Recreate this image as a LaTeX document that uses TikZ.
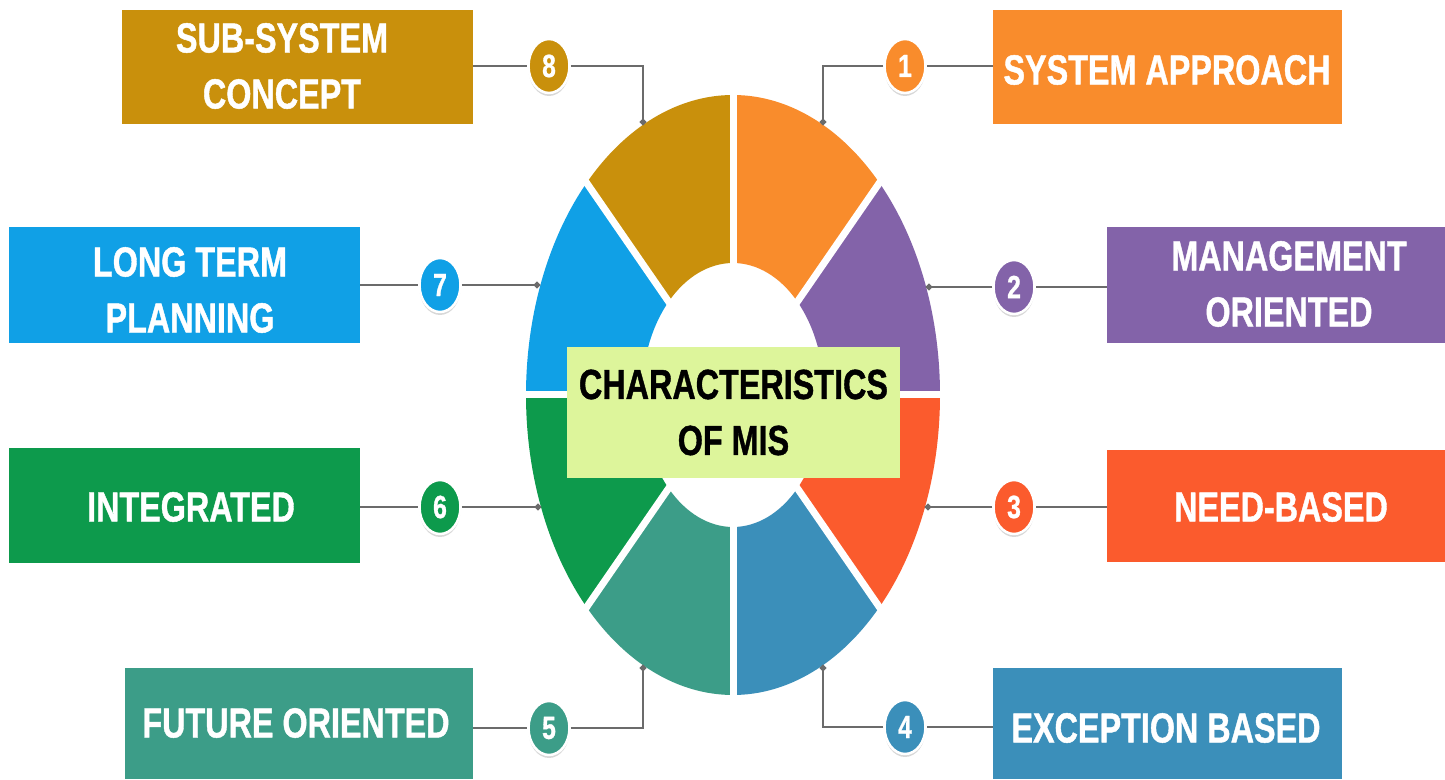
\documentclass[tikz,border=0pt]{standalone}
\usepackage{fontspec}
\setmainfont{Liberation Sans}
\newfontfamily\heavyfont{Liberation Sans Bold}[FakeBold=1.2]
\usepackage{graphicx}
\usetikzlibrary{shapes.geometric,shadows,arrows.meta}
\definecolor{cgold}{HTML}{C9900C}
\definecolor{corange}{HTML}{F98C2C}
\definecolor{cpurple}{HTML}{8363A9}
\definecolor{cred}{HTML}{FB5B2D}
\definecolor{csteel}{HTML}{3B8FBA}
\definecolor{cteal}{HTML}{3C9D88}
\definecolor{cgreen}{HTML}{0D9A4C}
\definecolor{csky}{HTML}{10A0E6}
\definecolor{clabel}{HTML}{DDF59B}
\definecolor{cline}{HTML}{6B6B6B}
\newcommand\sq[1]{\scalebox{0.77}[1]{#1}}
\tikzset{
  box/.style n args={3}{rectangle, fill=#1, minimum width=#2, minimum height=#3, inner sep=0pt},
  lbl/.style={text=white, font=\fontsize{42}{56}\selectfont\heavyfont, align=center, inner sep=0pt},
  num/.style={ellipse, fill=#1, draw=white, line width=2.5pt, minimum width=41pt, minimum height=54pt,
    inner sep=0pt, text=white, font=\fontsize{32}{32}\selectfont\heavyfont,
    drop shadow={shadow xshift=0pt, shadow yshift=-3pt, fill=black!30}},
  conn/.style={draw=cline, line width=2.6pt},
  toring/.style={conn, -{Circle[length=6pt]}},
  sector/.style={fill=#1},
}
\begin{document}
\begin{tikzpicture}[x=1pt,y=1pt]
\useasboundingbox (0,0) rectangle (1445,779);
\fill[white] (0,0) rectangle (1445,779);

% ring
\begin{scope}[shift={(733,384)}, xscale=0.69]
  \foreach \a/\b/\c in {45/90/corange, 0/45/cpurple, -45/0/cred, -90/-45/csteel,
                        -135/-90/cteal, 180/225/cgreen, 135/180/csky, 90/135/cgold}{
    \fill[sector=\c] (\a:132) arc[start angle=\a, end angle=\b, radius=132]
       -- (\b:300) arc[start angle=\b, end angle=\a, radius=300] -- cycle;
  }
  \foreach \a in {0,45,...,315}{
    \draw[white, line width=7pt] (0,0) -- (\a:310);
  }
\end{scope}

% center label
\node[rectangle, fill=clabel, minimum width=333pt, minimum height=131pt, inner sep=0pt,
      font=\fontsize{42}{56}\selectfont\heavyfont, align=center, text=black]
      (center) at (733.5,366.5) {\sq{CHARACTERISTICS}\\\sq{OF MIS}};

% boxes
\node[box={cgold}{351pt}{114pt}]   (b8) at (297.5,712) {};
\node[box={corange}{349pt}{114pt}] (b1) at (1167.5,712) {};
\node[box={cpurple}{338pt}{116pt}] (b2) at (1276,494) {};
\node[box={cred}{338pt}{112pt}]    (b3) at (1276,273) {};
\node[box={csteel}{349pt}{111pt}]  (b4) at (1167.5,55.5) {};
\node[box={cteal}{348pt}{111pt}]   (b5) at (299,55.5) {};
\node[box={cgreen}{351pt}{115pt}]  (b6) at (184.5,273.5) {};
\node[box={csky}{351pt}{116pt}]    (b7) at (184.5,494) {};

% box texts
\node[lbl] (t8) at (282,713)  {\sq{SUB-SYSTEM}\\\sq{CONCEPT}};
\node[lbl] (t1) at (1167,709) {\sq{SYSTEM APPROACH}};
\node[lbl] (t2) at (1289,495) {\sq{MANAGEMENT}\\\sq{ORIENTED}};
\node[lbl] (t3) at (1281,272) {\sq{NEED-BASED}};
\node[lbl] (t4) at (1166,51)  {\sq{EXCEPTION BASED}};
\node[lbl] (t5) at (296,56)   {\sq{FUTURE ORIENTED}};
\node[lbl] (t6) at (191,272)  {\sq{INTEGRATED}};
\node[lbl] (t7) at (190,489)  {\sq{LONG TERM}\\\sq{PLANNING}};

% ring points
\coordinate (r8) at (643,654);
\coordinate (r1) at (823,654);
\coordinate (r2) at (926,492);
\coordinate (r3) at (925,272);
\coordinate (r4) at (823,114);
\coordinate (r5) at (643,114);
\coordinate (r6) at (541,272);
\coordinate (r7) at (540,494);

% number circles
\node[num=cgold]   (c8) at (549,713) {\sq{8}};
\node[num=corange] (c1) at (905,713) {\sq{1}};
\node[num=cpurple] (c2) at (1014,492) {\sq{2}};
\node[num=cred]    (c3) at (1014,272) {\sq{3}};
\node[num=csteel]  (c4) at (905,52) {\sq{4}};
\node[num=cteal]   (c5) at (549,51) {\sq{5}};
\node[num=cgreen]  (c6) at (440,272) {\sq{6}};
\node[num=csky]    (c7) at (440,494) {\sq{7}};

% connectors
\draw[conn] (b8.east |- c8) -- (c8.west);
\draw[toring] (c8.east) -- (r8 |- c8) -- (r8);
\draw[conn] (b1.west |- c1) -- (c1.east);
\draw[toring] (c1.west) -- (r1 |- c1) -- (r1);
\draw[conn] (b2.west |- c2) -- (c2.east);
\draw[toring] (c2.west) -- (r2);
\draw[conn] (b3.west |- c3) -- (c3.east);
\draw[toring] (c3.west) -- (r3);
\draw[conn] (b4.west |- c4) -- (c4.east);
\draw[toring] (c4.west) -- (r4 |- c4) -- (r4);
\draw[conn] (b5.east |- c5) -- (c5.west);
\draw[toring] (c5.east) -- (r5 |- c5) -- (r5);
\draw[conn] (b6.east |- c6) -- (c6.west);
\draw[toring] (c6.east) -- (r6);
\draw[conn] (b7.east |- c7) -- (c7.west);
\draw[toring] (c7.east) -- (r7);
\end{tikzpicture}
\end{document}
